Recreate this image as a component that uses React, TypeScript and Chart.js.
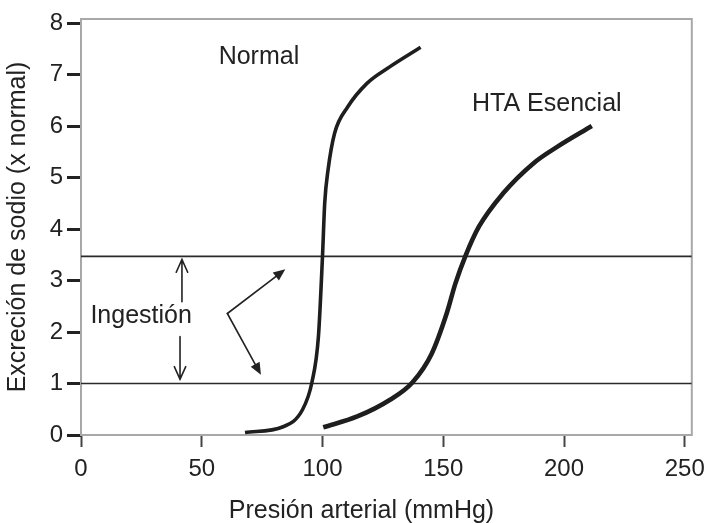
import React, { useEffect, useRef } from 'react';
import { Chart, registerables } from 'chart.js';
Chart.register(...registerables);

// ---- data ----
const xTickValues = [0, 50, 100, 150, 200, 250];
const yTickValues = [0, 1, 2, 3, 4, 5, 6, 7, 8];
const normalX = [67.9, 83.7, 91.7, 95.6, 98.3, 100.0, 100.9, 102.3, 105.0, 110.4, 118.4, 127.8, 140.6];
const normalY = [0.05, 0.16, 0.49, 1.02, 1.91, 3.48, 4.5, 5.15, 5.86, 6.37, 6.83, 7.15, 7.53];
const htaX = [100.3, 114.4, 127.8, 137.2, 145.2, 151.4, 155.0, 159.2, 164.8, 174.7, 187.4, 197.3, 211.5];
const htaY = [0.15, 0.36, 0.68, 1.02, 1.58, 2.36, 2.94, 3.48, 4.05, 4.69, 5.28, 5.6, 6.0];
const intakeLevels = [1, 3.47];
const X_MIN = 0;
const X_MAX = 252.9;
const Y_MIN = 0;
const Y_MAX = 8.08;

// ---- texts & annotation anchors (data coordinates) ----
const xTitle = 'Presión arterial (mmHg)';
const yTitle = 'Excreción de sodio (x normal)';
const textLabels = [
  { text: 'Normal', x: 57.0, y: 7.2 },
  { text: 'HTA Esencial', x: 161.9, y: 6.29 },
  { text: 'Ingestión', x: 3.9, y: 2.18 },
];
const openArrows = [
  { x1: 41.8, y1: 2.59, x2: 41.8, y2: 3.41 },
  { x1: 41.0, y1: 1.91, x2: 41.0, y2: 1.08 },
];
const filledArrows = [
  { x1: 60.6, y1: 2.36, x2: 84.6, y2: 3.22 },
  { x1: 60.6, y1: 2.36, x2: 74.5, y2: 1.17 },
];

const FONT = '"Liberation Sans", Arial, sans-serif';
const INK = '#222';

const toPts = (xs: number[], ys: number[]) => xs.map((x, i) => ({ x, y: ys[i] }));

const annotationPlugin = {
  id: 'annot',
  beforeDatasetsDraw(chart: any) {
    const { ctx, chartArea } = chart;
    ctx.save();
    ctx.strokeStyle = '#a8a8a8';
    ctx.lineWidth = 2;
    ctx.strokeRect(chartArea.left, chartArea.top, chartArea.right - chartArea.left, chartArea.bottom - chartArea.top);
    ctx.restore();
  },
  afterDatasetsDraw(chart: any) {
    const { ctx } = chart;
    const xs = chart.scales.x;
    const ys = chart.scales.y;
    const px = (v: number) => xs.getPixelForValue(v);
    const py = (v: number) => ys.getPixelForValue(v);
    ctx.save();
    ctx.fillStyle = INK;
    ctx.strokeStyle = INK;
    ctx.font = `25px ${FONT}`;
    ctx.textAlign = 'left';
    ctx.textBaseline = 'alphabetic';
    textLabels.forEach((t) => ctx.fillText(t.text, px(t.x), py(t.y)));

    // x axis title
    ctx.textAlign = 'center';
    ctx.fillText(xTitle, 361.5, 518);

    ctx.lineWidth = 1.6;
    ctx.lineCap = 'round';
    openArrows.forEach((a) => {
      const x1 = px(a.x1), y1 = py(a.y1), x2 = px(a.x2), y2 = py(a.y2);
      const ang = Math.atan2(y2 - y1, x2 - x1);
      const L = 14, W = 0.42;
      ctx.beginPath();
      ctx.moveTo(x1, y1);
      ctx.lineTo(x2, y2);
      ctx.moveTo(x2 - L * Math.cos(ang - W), y2 - L * Math.sin(ang - W));
      ctx.lineTo(x2, y2);
      ctx.lineTo(x2 - L * Math.cos(ang + W), y2 - L * Math.sin(ang + W));
      ctx.stroke();
    });
    filledArrows.forEach((a) => {
      const x1 = px(a.x1), y1 = py(a.y1), x2 = px(a.x2), y2 = py(a.y2);
      const ang = Math.atan2(y2 - y1, x2 - x1);
      const L = 13, W = 0.4;
      const bx = x2 - L * 0.8 * Math.cos(ang), by = y2 - L * 0.8 * Math.sin(ang);
      ctx.beginPath();
      ctx.moveTo(x1, y1);
      ctx.lineTo(bx, by);
      ctx.stroke();
      ctx.beginPath();
      ctx.moveTo(x2, y2);
      ctx.lineTo(x2 - L * Math.cos(ang - W), y2 - L * Math.sin(ang - W));
      ctx.lineTo(x2 - L * Math.cos(ang + W), y2 - L * Math.sin(ang + W));
      ctx.closePath();
      ctx.fill();
    });
    ctx.restore();
  },
};

export default function App() {
  const ref = useRef<HTMLCanvasElement | null>(null);
  useEffect(() => {
    document.body.style.margin = '0';
    if (!ref.current) return;
    const datasets: any[] = [
      ...intakeLevels.map((lv) => ({
        label: 'Ingestión ' + lv,
        data: [{ x: X_MIN, y: lv }, { x: X_MAX, y: lv }],
        borderColor: '#2a2a2a',
        borderWidth: 1.6,
        pointRadius: 0,
        showLine: true,
        order: 2,
      })),
      {
        label: 'Normal',
        data: toPts(normalX, normalY),
        borderColor: '#1e1e1e',
        borderWidth: 3.6,
        pointRadius: 0,
        showLine: true,
        cubicInterpolationMode: 'monotone',
        borderCapStyle: 'butt',
        order: 1,
      },
      {
        label: 'HTA Esencial',
        data: toPts(htaX, htaY),
        borderColor: '#1e1e1e',
        borderWidth: 4.6,
        pointRadius: 0,
        showLine: true,
        cubicInterpolationMode: 'monotone',
        borderCapStyle: 'butt',
        order: 1,
      },
    ];
    const chart = new Chart(ref.current, {
      type: 'scatter',
      data: { datasets },
      options: {
        animation: false,
        responsive: false,
        devicePixelRatio: 1,
        layout: { padding: { top: 19, right: 16, bottom: 0, left: 0 } },
        plugins: { legend: { display: false }, tooltip: { enabled: false } },
        scales: {
          x: {
            type: 'linear',
            min: X_MIN,
            max: X_MAX,
            afterBuildTicks: (s: any) => { s.ticks = xTickValues.map((v) => ({ value: v })); },
            afterFit: (s: any) => { s.height = 88; },
            border: { display: false },
            grid: { display: true, drawOnChartArea: false, drawTicks: true, tickLength: 12, tickWidth: 2, tickColor: '#444' },
            ticks: { color: INK, font: { family: FONT, size: 24 }, padding: 8, maxRotation: 0, autoSkip: false },
          },
          y: {
            type: 'linear',
            min: Y_MIN,
            max: Y_MAX,
            afterBuildTicks: (s: any) => { s.ticks = yTickValues.map((v) => ({ value: v })); },
            afterFit: (s: any) => { s.width = 81; },
            border: { display: false },
            grid: { display: true, drawOnChartArea: false, drawTicks: true, tickLength: 14, tickWidth: 3, tickColor: INK },
            ticks: { color: INK, font: { family: FONT, size: 24 }, padding: 4, autoSkip: false },
            title: { display: true, text: yTitle, color: INK, font: { family: FONT, size: 25 }, padding: { top: 3, bottom: 0 } },
          },
        },
      },
      plugins: [annotationPlugin],
    });
    return () => chart.destroy();
  }, []);
  return (
    <div style={{ position: 'fixed', left: 0, top: 0, width: 713, height: 523, background: '#fff' }}>
      <canvas ref={ref} width={713} height={523} />
    </div>
  );
}
